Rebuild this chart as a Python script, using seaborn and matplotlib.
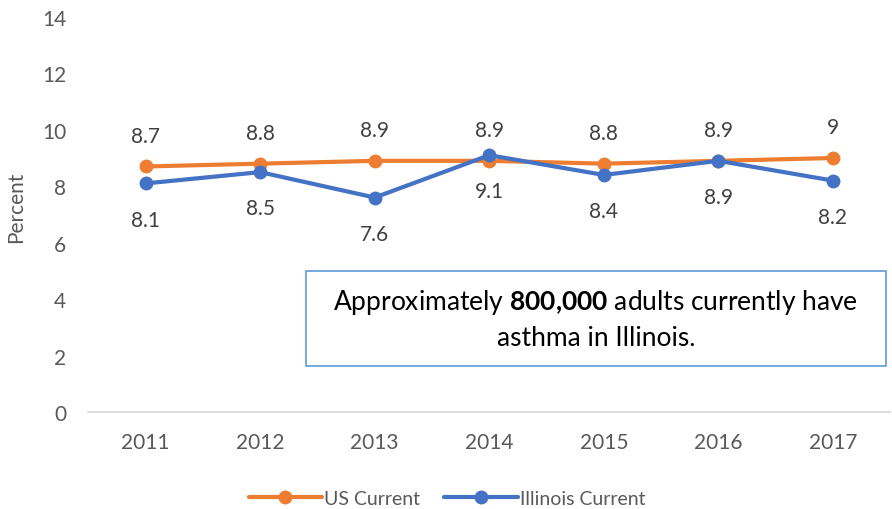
import pandas as pd
import matplotlib.pyplot as plt
from matplotlib.patches import Rectangle
import seaborn as sns

# chart data
years = ['2011', '2012', '2013', '2014', '2015', '2016', '2017']
us_current = [8.7, 8.8, 8.9, 8.9, 8.8, 8.9, 9.0]
il_current = [8.1, 8.5, 7.6, 9.1, 8.4, 8.9, 8.2]
series_names = ['US Current', 'Illinois Current']
y_ticks = [0, 2, 4, 6, 8, 10, 12, 14]

df = pd.DataFrame({
    'pos': list(range(len(years))) * 2,
    'value': us_current + il_current,
    'series': [series_names[0]] * len(years) + [series_names[1]] * len(years),
})

sns.set_style('white')
plt.rcParams['font.family'] = ['Lato', 'DejaVu Sans']
plt.rcParams['mathtext.fontset'] = 'custom'
plt.rcParams['mathtext.rm'] = 'Lato'
plt.rcParams['mathtext.bf'] = 'Lato:bold'

gray = '#595959'
colors = {'US Current': '#ed7d31', 'Illinois Current': '#4472c4'}

fig = plt.figure(figsize=(8.92, 5.10), dpi=100)
ax = fig.add_axes([0.099, 0.19, 0.899, 0.775])

sns.lineplot(data=df, x='pos', y='value', hue='series', palette=colors,
             marker='o', markersize=10, markeredgewidth=0, linewidth=3,
             ax=ax)

# data labels: US above, Illinois below
for i, v in enumerate(us_current):
    ax.annotate(f'{v:g}', (i, v), xytext=(0, 22), textcoords='offset points',
                ha='center', va='center', fontsize=15, color='#404040')
for i, v in enumerate(il_current):
    ax.annotate(f'{v:g}', (i, v), xytext=(0, -26), textcoords='offset points',
                ha='center', va='center', fontsize=15, color='#404040')

ax.set_xlim(-0.5, len(years) - 0.5)
ax.set_ylim(0, 14)
ax.set_yticks(y_ticks)
ax.set_yticklabels([str(t) for t in y_ticks], fontsize=15, color=gray)
ax.set_xticks(range(len(years)))
ax.set_xticklabels(years, fontsize=15, color=gray)
ax.set_xticks([i - 0.5 for i in range(len(years) + 1)], minor=True)
ax.tick_params(axis='x', which='major', length=0, pad=14)
ax.tick_params(axis='x', which='minor', length=6, color='#d9d9d9', width=1.2)
ax.tick_params(axis='y', length=0, pad=16)

for s in ['top', 'right', 'left']:
    ax.spines[s].set_visible(False)
ax.spines['bottom'].set_color('#d9d9d9')
ax.spines['bottom'].set_linewidth(1.2)

ax.set_xlabel('')
ax.set_ylabel('Percent', fontsize=15, color=gray)
ax.yaxis.set_label_coords(-0.078, 0.52)

# annotation box
ax.add_patch(Rectangle((0.2715, 0.117), 0.7233, 0.24, transform=ax.transAxes,
                       facecolor='white', edgecolor='#5b9bd5', linewidth=1.2,
                       zorder=5, clip_on=False))
ax.text(0.633, 0.237,
        'Approximately $\\mathbf{800{,}000}$ adults currently have\nasthma in Illinois.',
        transform=ax.transAxes, ha='center', va='center', fontsize=19,
        color='black', linespacing=1.45, zorder=6)

leg = ax.legend(loc='lower center', bbox_to_anchor=(0.447, -0.285), ncol=2,
                frameon=False, fontsize=14, handlelength=3.8,
                columnspacing=1.2, handletextpad=0.1)
for t in leg.get_texts():
    t.set_color(gray)

fig.savefig('out.png', dpi=100)
